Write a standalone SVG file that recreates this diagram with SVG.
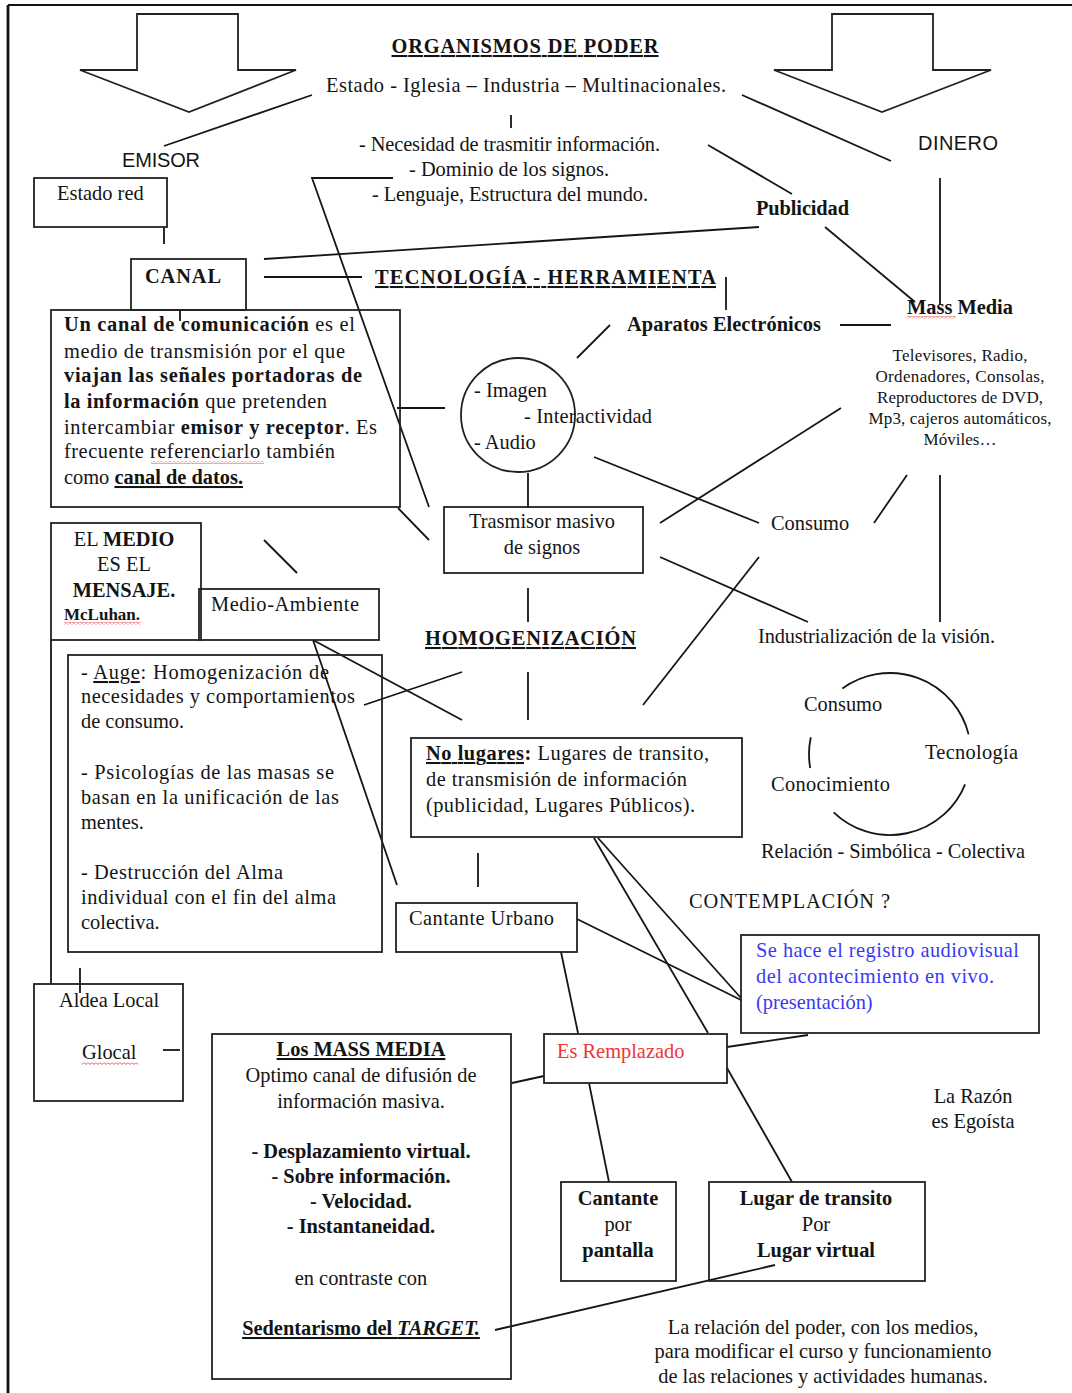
<svg xmlns="http://www.w3.org/2000/svg" width="1072" height="1393" viewBox="0 0 1072 1393">
<style>
.t{font-family:"Liberation Serif","Times New Roman",serif;font-size:20.4px;fill:#141414}
.b{font-weight:bold}
.u{text-decoration:underline}
.i{font-style:italic}
.s{font-family:"Liberation Sans",Arial,sans-serif;font-size:20px;fill:#141414}
.sm{font-size:17px}
.m{text-anchor:middle}
.ln{stroke:#161616;stroke-width:1.8;fill:none}
.bx{fill:none;stroke:#222;stroke-width:1.8}
.blue{fill:#3a3af0}
.red{fill:#f03434}
</style>
<defs>
<pattern id="wavy" width="4" height="3" patternUnits="userSpaceOnUse">
<path d="M0,0.5 L2,2.5 L4,0.5" stroke="#e02020" stroke-width="0.8" fill="none"/>
</pattern>
</defs>
<rect width="1072" height="1393" fill="#fff"/>
<g id="frame">
<line x1="8" y1="5" x2="1072" y2="5" stroke="#111" stroke-width="2"/>
<line x1="8" y1="5" x2="8" y2="1393" stroke="#111" stroke-width="2.8"/>
</g>
<g id="arrows">
<polygon class="bx" points="137,14 238,14 238,70 296,70 189,112 80,70 137,70"/>
<polygon class="bx" points="832,14 933,14 933,70 991,70 882,112 774,70 832,70"/>
</g>
<g id="connectors">
<line class="ln" x1="312" y1="95" x2="164" y2="146"/>
<line class="ln" x1="742" y1="95" x2="891" y2="161"/>
<line class="ln" x1="511" y1="115" x2="511" y2="128"/>
<line class="ln" x1="708" y1="145" x2="792" y2="194"/>
<line class="ln" x1="825" y1="227" x2="915" y2="302"/>
<line class="ln" x1="940" y1="178" x2="940" y2="305"/>
<line class="ln" x1="759" y1="227" x2="264" y2="259"/>
<polyline class="ln" points="393,178 312,178 429,507"/>
<line class="ln" x1="164" y1="227" x2="164" y2="244"/>
<line class="ln" x1="264" y1="277" x2="362" y2="277"/>
<line class="ln" x1="726" y1="277" x2="726" y2="310"/>
<line class="ln" x1="840" y1="325" x2="891" y2="325"/>
<line class="ln" x1="610" y1="325" x2="577" y2="358"/>
<line class="ln" x1="397" y1="408" x2="445" y2="408"/>
<line class="ln" x1="528" y1="473" x2="528" y2="508"/>
<line class="ln" x1="398" y1="508" x2="429" y2="540"/>
<line class="ln" x1="594" y1="457" x2="759" y2="523"/>
<line class="ln" x1="660" y1="523" x2="841" y2="408"/>
<line class="ln" x1="874" y1="523" x2="907" y2="475"/>
<line class="ln" x1="940" y1="475" x2="940" y2="622"/>
<line class="ln" x1="660" y1="557" x2="808" y2="622"/>
<line class="ln" x1="759" y1="557" x2="643" y2="705"/>
<line class="ln" x1="528" y1="588" x2="528" y2="622"/>
<line class="ln" x1="264" y1="540" x2="297" y2="573"/>
<line class="ln" x1="180" y1="310" x2="180" y2="321"/>
<line class="ln" x1="313" y1="640" x2="397" y2="885"/>
<line class="ln" x1="313" y1="640" x2="462" y2="720"/>
<line class="ln" x1="364" y1="705" x2="462" y2="672"/>
<line class="ln" x1="528" y1="672" x2="528" y2="720"/>
<line class="ln" x1="478" y1="853" x2="478" y2="887"/>
<line class="ln" x1="594" y1="838" x2="708" y2="1033"/>
<line class="ln" x1="598" y1="838" x2="741" y2="998"/>
<line class="ln" x1="577" y1="919" x2="741" y2="1000"/>
<line class="ln" x1="561" y1="952" x2="578" y2="1033"/>
<line class="ln" x1="589" y1="1083" x2="609" y2="1182"/>
<line class="ln" x1="727" y1="1047" x2="808" y2="1035"/>
<line class="ln" x1="727" y1="1068" x2="792" y2="1182"/>
<line class="ln" x1="512" y1="1083" x2="544" y2="1076"/>
<line class="ln" x1="495" y1="1330" x2="775" y2="1265"/>
<line class="ln" x1="163" y1="1050" x2="180" y2="1050"/>
<line class="ln" x1="80" y1="968" x2="80" y2="993"/>
<line class="ln" x1="51" y1="640" x2="51" y2="984"/>
</g>
<g id="organismos">
<text class="t b u m" x="525" y="53" textLength="267">ORGANISMOS  DE  PODER</text>
<text class="t" x="326" y="92" textLength="400">Estado  - Iglesia – Industria  – Multinacionales.</text>
</g>
<g id="necesidad">
<text class="t" x="359" y="151" textLength="301">- Necesidad de trasmitir información.</text>
<text class="t" x="409" y="176" textLength="200">- Dominio de los signos.</text>
<text class="t" x="372" y="201" textLength="276">- Lenguaje, Estructura del mundo.</text>
</g>
<g id="emisor"><text class="s" x="122" y="167" textLength="78">EMISOR</text></g>
<g id="dinero"><text class="s" x="918" y="150" textLength="80">DINERO</text></g>
<g id="publicidad"><text class="t b" x="756" y="215" textLength="93">Publicidad</text></g>
<g id="estado-red">
<rect class="bx" x="34" y="178" width="133" height="49"/>
<text class="t" x="57" y="200">Estado red</text>
</g>
<g id="canal">
<rect class="bx" x="131" y="259" width="115" height="51"/>
<text class="t b" x="145" y="283" textLength="76">CANAL</text>
</g>
<g id="tecnologia"><text class="t b u" x="375" y="284" textLength="341">TECNOLOGÍA  - HERRAMIENTA</text></g>
<g id="aparatos"><text class="t b" x="627" y="331" textLength="194">Aparatos Electrónicos</text></g>
<g id="mass-media">
<text class="t b" x="907" y="314" textLength="106">Mass Media</text>
<rect x="907" y="316" width="49" height="3" fill="url(#wavy)"/>
<text class="t sm m" x="960" y="361" textLength="135">Televisores, Radio,</text>
<text class="t sm m" x="960" y="382" textLength="169">Ordenadores,  Consolas,</text>
<text class="t sm m" x="960" y="403" textLength="166">Reproductores de DVD,</text>
<text class="t sm m" x="960" y="424" textLength="183">Mp3, cajeros automáticos,</text>
<text class="t sm m" x="960" y="445" textLength="73">Móviles…</text>
</g>
<g id="canal-def">
<rect class="bx" x="51" y="310" width="349" height="197"/>
<text class="t" x="64" y="331" textLength="291"><tspan class="b">Un canal de comunicación</tspan> es el</text>
<text class="t" x="64" y="358" textLength="281">medio de transmisión por el que</text>
<text class="t b" x="64" y="382" textLength="298">viajan las señales portadoras de</text>
<text class="t" x="64" y="408" textLength="263"><tspan class="b">la información</tspan> que pretenden</text>
<text class="t" x="64" y="434" textLength="313">intercambiar <tspan class="b">emisor y receptor</tspan>. Es</text>
<text class="t" x="64" y="458" textLength="271">frecuente referenciarlo también</text>
<rect x="151" y="461" width="113" height="3" fill="url(#wavy)"/>
<text class="t" x="64" y="484">como <tspan class="b u">canal de datos.</tspan></text>
</g>
<g id="circulo">
<circle class="bx" cx="518" cy="415" r="57"/>
<text class="t" x="474" y="397">- Imagen</text>
<text class="t" x="524" y="423" textLength="128">- Interactividad</text>
<text class="t" x="474" y="449">- Audio</text>
</g>
<g id="trasmisor">
<rect class="bx" x="444" y="507" width="199" height="66"/>
<text class="t m" x="542" y="528">Trasmisor masivo</text>
<text class="t m" x="542" y="554">de signos</text>
</g>
<g id="consumo"><text class="t" x="771" y="530">Consumo</text></g>
<g id="industrializacion"><text class="t" x="758" y="643" textLength="237">Industrialización de la visión.</text></g>
<g id="homogenizacion"><text class="t b u" x="425" y="645" textLength="211">HOMOGENIZACIÓN</text></g>
<g id="el-medio">
<rect class="bx" x="51" y="523" width="150" height="117"/>
<text class="t m" x="124" y="546">EL <tspan class="b">MEDIO</tspan></text>
<text class="t m" x="124" y="571">ES EL</text>
<text class="t b m" x="124" y="597">MENSAJE.</text>
<text class="t b" x="64" y="620" style="font-size:17px">McLuhan.</text>
<rect x="64" y="622" width="77" height="3" fill="url(#wavy)"/>
</g>
<g id="medio-ambiente">
<rect class="bx" x="199" y="589" width="180" height="51"/>
<text class="t" x="211" y="611" textLength="148">Medio-Ambiente</text>
</g>
<g id="lista">
<rect class="bx" x="68" y="655" width="314" height="297"/>
<text class="t" x="81" y="679" textLength="248">- <tspan class="u">Auge</tspan>: Homogenización de</text>
<text class="t" x="81" y="703" textLength="274">necesidades y comportamientos</text>
<text class="t" x="81" y="728">de consumo.</text>
<text class="t" x="81" y="779" textLength="253">- Psicologías de las masas se</text>
<text class="t" x="81" y="804" textLength="258">basan en la unificación de las</text>
<text class="t" x="81" y="829">mentes.</text>
<text class="t" x="81" y="879" textLength="202">- Destrucción del Alma</text>
<text class="t" x="81" y="904" textLength="255">individual con el fin del alma</text>
<text class="t" x="81" y="929">colectiva.</text>
</g>
<g id="no-lugares">
<rect class="bx" x="411" y="738" width="331" height="99"/>
<text class="t" x="426" y="760" textLength="283"><tspan class="b u">No lugares</tspan><tspan class="b">:</tspan> Lugares de transito,</text>
<text class="t" x="426" y="786" textLength="261">de transmisión de información</text>
<text class="t" x="426" y="812" textLength="269">(publicidad, Lugares Públicos).</text>
</g>
<g id="ciclo">
<path class="ln" d="M842.4,688.5 A81,81 0 0 1 968.6,734.4"/>
<path class="ln" d="M965.1,784.3 A81,81 0 0 1 833.7,812.3"/>
<path class="ln" d="M810.8,737.2 A81,81 0 0 0 810.2,768"/>
<text class="t" x="804" y="711">Consumo</text>
<text class="t" x="925" y="759" textLength="93">Tecnología</text>
<text class="t" x="771" y="791" textLength="119">Conocimiento</text>
<text class="t" x="761" y="858" textLength="264">Relación - Simbólica - Colectiva</text>
</g>
<g id="contemplacion"><text class="t" x="689" y="908" textLength="201">CONTEMPLACIÓN ?</text></g>
<g id="cantante-urbano">
<rect class="bx" x="396" y="903" width="181" height="49"/>
<text class="t" x="409" y="925" textLength="145">Cantante  Urbano</text>
</g>
<g id="registro">
<rect class="bx" x="741" y="935" width="298" height="98"/>
<text class="t blue" x="756" y="957" textLength="263">Se hace el registro audiovisual</text>
<text class="t blue" x="756" y="983" textLength="238">del acontecimiento en vivo.</text>
<text class="t blue" x="756" y="1009">(presentación)</text>
</g>
<g id="es-remplazado">
<rect class="bx" x="544" y="1034" width="183" height="49"/>
<text class="t red" x="557" y="1058">Es Remplazado</text>
</g>
<g id="aldea">
<rect class="bx" x="34" y="984" width="149" height="117"/>
<text class="t" x="59" y="1007">Aldea Local</text>
<text class="t" x="82" y="1059">Glocal</text>
<rect x="82" y="1062" width="56" height="3" fill="url(#wavy)"/>
</g>
<g id="los-mass-media">
<rect class="bx" x="212" y="1034" width="299" height="345"/>
<text class="t b u m" x="361" y="1056">Los MASS MEDIA</text>
<text class="t m" x="361" y="1082">Optimo canal de difusión de</text>
<text class="t m" x="361" y="1108">información masiva.</text>
<text class="t b m" x="361" y="1158">- Desplazamiento virtual.</text>
<text class="t b m" x="361" y="1183">- Sobre información.</text>
<text class="t b m" x="361" y="1208">- Velocidad.</text>
<text class="t b m" x="361" y="1233">- Instantaneidad.</text>
<text class="t m" x="361" y="1285">en contraste con</text>
<text class="t b u m" x="361" y="1335">Sedentarismo del <tspan class="i">TARGET.</tspan></text>
</g>
<g id="cantante-pantalla">
<rect class="bx" x="561" y="1182" width="115" height="99"/>
<text class="t b m" x="618" y="1205">Cantante</text>
<text class="t m" x="618" y="1231">por</text>
<text class="t b m" x="618" y="1257">pantalla</text>
</g>
<g id="lugar-transito">
<rect class="bx" x="709" y="1182" width="216" height="99"/>
<text class="t b m" x="816" y="1205">Lugar de transito</text>
<text class="t m" x="816" y="1231">Por</text>
<text class="t b m" x="816" y="1257">Lugar virtual</text>
</g>
<g id="razon">
<text class="t m" x="973" y="1103">La Razón</text>
<text class="t m" x="973" y="1128">es Egoísta</text>
</g>
<g id="relacion-poder">
<text class="t m" x="823" y="1334">La relación del poder, con los medios,</text>
<text class="t m" x="823" y="1358">para modificar el curso y funcionamiento</text>
<text class="t m" x="823" y="1383">de las relaciones y actividades humanas.</text>
</g>
</svg>
